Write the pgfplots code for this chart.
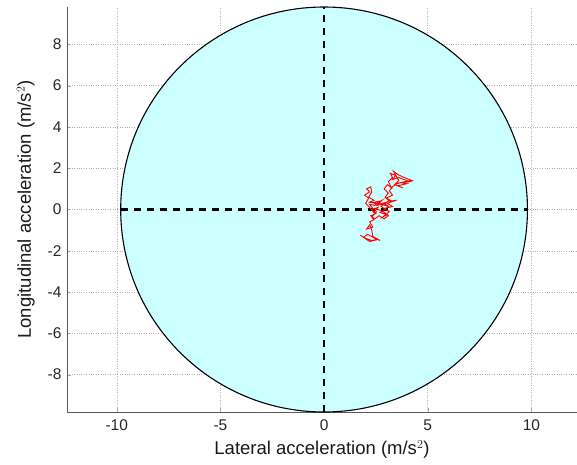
\documentclass[border=0pt]{standalone}
\usepackage{pgfplots}
\pgfplotsset{compat=1.18}
\usepackage{fontspec}
\setmainfont{Liberation Sans}
\definecolor{circfill}{RGB}{204,255,255}
\begin{document}
\begin{tikzpicture}
\path[use as bounding box] (-67pt,-52pt) rectangle (510pt,412pt);
\begin{axis}[
  at={(0pt,0pt)}, anchor=south west,
  width=510pt, height=405pt, scale only axis,
  xmin=-12.4, xmax=12.2, ymin=-9.81, ymax=9.81,
  axis x line*=bottom, axis y line*=left,
  axis line style={draw=black!65, line width=0.6pt},
  xtick={-10,-5,0,5,10}, ytick={-8,-6,-4,-2,0,2,4,6,8},
  tick align=inside, major tick length=4pt,
  tick style={draw=black!35},
  grid=major, grid style={dotted, draw=black!30, line width=0.5pt},
  /pgf/number format/assume math mode=true,
  ticklabel style={font=\fontsize{15.5}{17}\selectfont, text=black!85},
  xticklabel style={yshift=-4pt},
  yticklabel style={xshift=-2pt},
  label style={font=\fontsize{18.5}{20}\selectfont, text=black!90},
  xlabel={Lateral acceleration (m/s$^2$)},
  ylabel={Longitudinal acceleration (m/s$^2$)},
  xlabel style={yshift=-3pt},
  ylabel style={yshift=6pt},
  clip=false,
]
\fill[circfill, draw=black, line width=1.1pt] (axis cs:0,0) ellipse [x radius=9.81, y radius=9.81];
\addplot[black, line width=2.2pt, dash pattern=on 7pt off 6pt] coordinates {(-9.81,0) (9.81,0)};
\addplot[black, line width=2.2pt, dash pattern=on 7pt off 6pt] coordinates {(0,-9.81) (0,9.81)};
\addplot[red, line width=0.9pt] coordinates {
(1.75,-1.25) (2.0,-1.4) (2.3,-1.5) (2.6,-1.45) (2.2,-1.55) (1.9,-1.35) (2.1,-1.2)
(2.45,-1.4) (2.7,-1.5) (2.35,-1.3) (2.3,-1.0) (2.2,-0.75) (2.05,-0.95) (2.35,-0.85)
(2.2,-0.6) (2.4,-0.5) (2.25,-0.3) (2.5,-0.2) (2.3,0.0) (2.6,0.1) (2.4,-0.15) (2.2,0.1)
(2.0,0.3) (2.15,0.55) (1.95,0.7) (2.2,0.85) (2.05,1.0) (2.25,1.1) (2.3,0.85) (2.15,0.6)
(2.4,0.45) (2.2,0.35) (2.55,0.3) (2.8,0.45) (2.6,0.25) (3.0,0.35) (2.75,0.15)
(2.95,0.0) (2.7,-0.15) (3.05,-0.25) (2.85,-0.35) (3.15,-0.1) (2.9,0.05) (3.3,0.15)
(3.05,0.3) (3.5,0.45) (3.15,0.4) (2.95,0.6) (3.1,0.8) (2.9,1.0) (3.05,1.2) (3.25,1.05)
(3.1,1.35) (3.3,1.55) (3.2,1.75) (3.45,1.65) (3.3,1.45) (3.6,1.55) (3.85,1.45)
(4.15,1.35) (3.7,1.3) (4.0,1.25) (3.55,1.15) (3.8,1.05) (3.4,1.2) (3.6,1.4) (3.35,1.85)
(3.55,1.7) (3.75,1.6) (4.25,1.4) (3.9,1.35) (3.5,1.25) (3.3,1.1) (3.15,0.9) (3.3,0.7)
(3.0,0.55) (3.2,0.45) (2.9,0.3) (3.1,0.15) (2.8,0.25) (2.55,0.2) (2.4,0.35) (2.65,0.4)
(2.45,0.2) (2.2,0.25) (2.35,0.05) (2.6,0.0) (2.85,-0.1) (3.1,-0.3) (2.9,-0.45)
(2.65,-0.3) (2.45,-0.45) (2.3,-0.35) (2.55,-0.1)
};
\end{axis}
\end{tikzpicture}
\end{document}
